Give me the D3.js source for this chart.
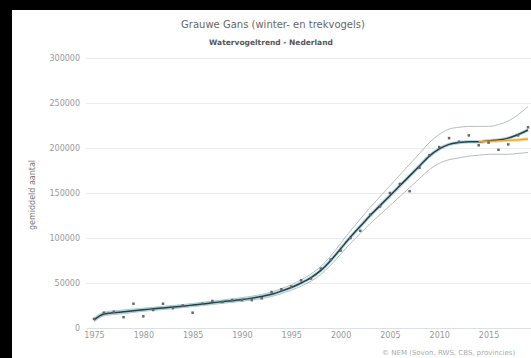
<!DOCTYPE html>
<html><head><meta charset="utf-8">
<script src="https://cdn.jsdelivr.net/npm/d3@7"></script>
<style>html,body{margin:0;padding:0;background:#000;}svg{display:block;}</style>
</head><body>
<script>
const years = d3.range(1975, 2020);
const counts = [10,17,18,12,27,13,20,27,22,25,17,27,30,29,31,31,31,33,40,43,46,53,55,66,76,86,100,108,126,135,150,160,152,178,192,201,211,207,214,203,206,198,204,214,223].map(v=>v*1000);
const trend = [9,15.5,17,18,19.2,20.3,21.3,22.3,23.3,24.3,25.5,26.7,28,29.2,30.4,31.7,33.2,35,37.5,41,45,50,56,64,75,88,101,113,125,136,147,158,169,180,191,199,204,206,207,207,208,209,211,215,220].map(v=>v*1000);
const upper = [11,17.5,19,20,21,22,23,24,25,26,27.2,28.5,29.8,31,32.3,33.7,35.3,37.3,40,43.8,48,53.5,60,68.5,80,94,108,121,134,146,158,170,182,194,206,215,221,223,224,224,224,226,230,237,246].map(v=>v*1000);
const lower = [7,13.5,15,16,17.4,18.6,19.6,20.6,21.6,22.6,23.8,24.9,26.2,27.4,28.5,29.7,31.1,32.7,35,38.2,42,46.5,52,59.5,70,82,94,105,116,126,136,146,156,166,176,183,187,189,191,192,193,193,193,194,195].map(v=>v*1000);
const recentYears = [2014,2015,2016,2017,2018,2019];
const recentTrend = [207,207.5,208,208.5,209,210].map(v=>v*1000);
const yTicks = [0,50000,100000,150000,200000,250000,300000];
const xTicks = [1975,1980,1985,1990,1995,2000,2005,2010,2015];

const W=531,H=358;
const svg=d3.select("body").append("svg").attr("width",W).attr("height",H);
svg.append("rect").attr("width",W).attr("height",H).attr("fill","#000");
svg.append("rect").attr("x",12).attr("y",10).attr("width",W-12).attr("height",H-10).attr("fill","#fff");
const font="DejaVu Sans, Lucida Grande, Arial, sans-serif";
const x=d3.scaleLinear().domain([1975,2019]).range([94,528]);
const y=d3.scaleLinear().domain([0,300000]).range([328,58]);

svg.append("g").selectAll("line").data(yTicks.slice(1)).join("line")
 .attr("x1",86).attr("x2",W).attr("y1",d=>Math.round(y(d))+0.5).attr("y2",d=>Math.round(y(d))+0.5)
 .attr("stroke","#ececec").attr("stroke-width",1);
svg.append("line").attr("x1",86).attr("x2",W).attr("y1",Math.round(y(0))+0.5).attr("y2",Math.round(y(0))+0.5)
 .attr("stroke","#d8dfee");

const yAxis=d3.axisLeft(y).tickValues(yTicks).tickSize(0).tickPadding(0).tickFormat(d3.format("d"));
const gy=svg.append("g").attr("transform","translate(80,0)").call(yAxis);
gy.select(".domain").remove();
gy.selectAll("text").attr("fill","#999").attr("font-family",font).attr("font-size","8px");

const xAxis=d3.axisBottom(x).tickValues(xTicks).tickSize(0).tickPadding(0).tickFormat(d3.format("d"));
const gx=svg.append("g").attr("transform","translate(0,332)").call(xAxis);
gx.select(".domain").remove();
gx.selectAll("text").attr("fill","#999").attr("font-family",font).attr("font-size","8px");

svg.append("text").attr("transform","translate(35,195) rotate(-90)").attr("text-anchor","middle")
 .attr("font-family",font).attr("font-size","8px").attr("fill","#777").text("gemiddeld aantal");

svg.append("text").attr("x",273).attr("y",28).attr("text-anchor","middle").attr("font-family",font)
 .attr("font-size","10px").attr("fill","#666").text("Grauwe Gans (winter- en trekvogels)");
svg.append("text").attr("x",271).attr("y",45).attr("text-anchor","middle").attr("font-family",font)
 .attr("font-size","7.5px").attr("font-weight","bold").attr("fill","#555").text("Watervogeltrend - Nederland");
svg.append("text").attr("x",382).attr("y",355).attr("font-family",font)
 .attr("font-size","7px").attr("fill","#aaa").text("© NEM (Sovon, RWS, CBS, provincies)");

const line=(vals,yrs)=>d3.line().x((d,i)=>x(yrs[i])).y(d=>y(d)).curve(d3.curveMonotoneX)(vals);
svg.append("path").attr("d",line(upper,years)).attr("fill","none").attr("stroke","#b3bfbd").attr("stroke-width",1);
svg.append("path").attr("d",line(lower,years)).attr("fill","none").attr("stroke","#b3bfbd").attr("stroke-width",1);
svg.append("path").attr("d",line(trend,years)).attr("fill","none").attr("stroke","#9fd6d4").attr("stroke-width",3.5).attr("opacity",0.8);
svg.append("path").attr("d",line(recentTrend,recentYears)).attr("fill","none").attr("stroke","#f7d48a").attr("stroke-width",3.5).attr("opacity",0.8);
svg.append("path").attr("d",line(trend,years)).attr("fill","none").attr("stroke","#2a3b4c").attr("stroke-width",1.5);
svg.append("path").attr("d",line(recentTrend,recentYears)).attr("fill","none").attr("stroke","#e9a531").attr("stroke-width",1.3);

svg.append("g").selectAll("rect").data(counts).join("rect")
 .attr("x",(d,i)=>x(years[i])-1.25).attr("y",d=>y(d)-1.25).attr("width",2.5).attr("height",2.5)
 .attr("fill","#666");
</script>
</body></html>
